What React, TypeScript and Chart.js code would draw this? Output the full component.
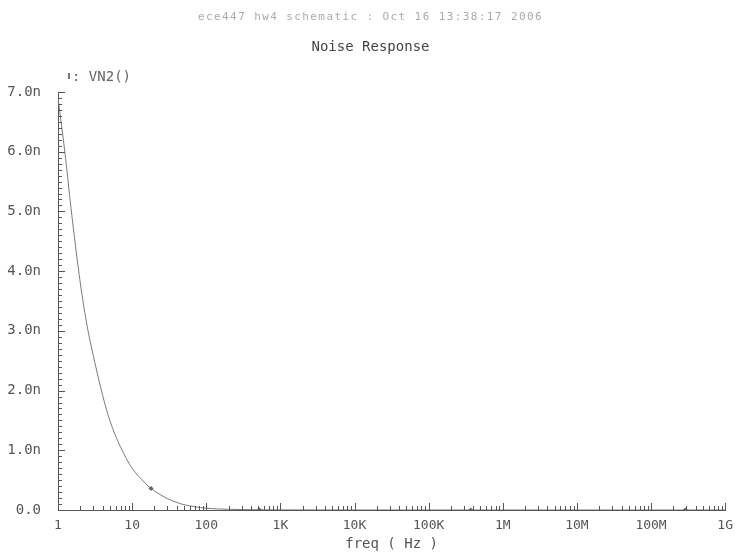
import React, { useEffect, useRef } from "react";
import { Chart, registerables } from "chart.js";

Chart.register(...registerables);

const HEADER_TEXT = "ece447 hw4 schematic : Oct 16 13:38:17 2006";
const TITLE_TEXT = "Noise Response";
const SERIES_NAME = "VN2()";
const X_AXIS_TITLE = "freq ( Hz )";

// frequency (Hz)
const FREQ_HZ = [1, 1.25, 1.5, 2, 2.5, 3, 4, 5, 7, 10, 15, 18, 20, 30, 50, 100, 200, 520, 1000, 10000, 370000, 1e6, 1e7, 2.9e8, 1e9];
// noise (n units)
const NOISE_N = [6.9, 5.95, 5.05, 3.8, 3.05, 2.58, 1.92, 1.5, 1.05, 0.7, 0.45, 0.36, 0.32, 0.19, 0.09, 0.03, 0.012, 0.004, 0.002, 0.0003, 0, 0, 0, 0, 0];
// frequencies carrying the curve's marker symbol
const MARKER_FREQS = [18, 520, 370000, 2.9e8];

const X_TICK_VALUES = [1, 10, 100, 1e3, 1e4, 1e5, 1e6, 1e7, 1e8, 1e9];
const X_TICK_LABELS = ["1", "10", "100", "1K", "10K", "100K", "1M", "10M", "100M", "1G"];
const Y_TICK_VALUES = [0, 1, 2, 3, 4, 5, 6, 7];
const Y_TICK_LABELS = ["0.0", "1.0n", "2.0n", "3.0n", "4.0n", "5.0n", "6.0n", "7.0n"];

const AXIS_COLOR = "#555";
const TEXT_COLOR = "#555";
const LINE_COLOR = "#7a7a7a";
const MONO = '"DejaVu Sans Mono", monospace';

const decorPlugin = {
  id: "decor",
  afterDraw(chart: any) {
    const { ctx, scales } = chart;
    const xs = scales.x;
    const ys = scales.y;
    const area = chart.chartArea;
    ctx.save();
    // inward tick marks
    ctx.strokeStyle = AXIS_COLOR;
    ctx.lineWidth = 1;
    ctx.beginPath();
    for (let i = 0; i <= 70; i++) {
      const py = Math.round(ys.getPixelForValue(i / 10)) + 0.5;
      const len = i % 10 === 0 ? 7 : 4;
      ctx.moveTo(area.left, py);
      ctx.lineTo(area.left + len, py);
    }
    for (let e = 0; e <= 9; e++) {
      for (let m = 1; m <= 9; m++) {
        if (e === 9 && m > 1) break;
        const f = m * Math.pow(10, e);
        const px = Math.round(xs.getPixelForValue(f)) + 0.5;
        const len = m === 1 ? 7 : 4;
        ctx.moveTo(px, area.bottom);
        ctx.lineTo(px, area.bottom - len);
      }
    }
    ctx.stroke();

    // header + title
    ctx.textAlign = "center";
    ctx.textBaseline = "middle";
    ctx.fillStyle = "#aaa";
    ctx.font = '11px ' + MONO;
    try { (ctx as any).letterSpacing = "1.4px"; } catch (e) {}
    ctx.fillText(HEADER_TEXT, chart.width / 2, 17);
    try { (ctx as any).letterSpacing = "0px"; } catch (e) {}
    ctx.fillStyle = "#444";
    ctx.font = '14px ' + MONO;
    ctx.fillText(TITLE_TEXT, chart.width / 2, 47);

    // legend
    ctx.fillStyle = "#777";
    ctx.fillRect(68, 73, 2, 6);
    ctx.textAlign = "left";
    ctx.fillStyle = "#666";
    ctx.font = '14px ' + MONO;
    ctx.fillText(": " + SERIES_NAME, 72, 77);
    ctx.restore();
  },
};

export default function App() {
  const ref = useRef<HTMLCanvasElement | null>(null);
  useEffect(() => {
    document.body.style.margin = "0";
    const canvas = ref.current;
    if (!canvas) return;
    const data = FREQ_HZ.map((f, i) => ({ x: f, y: NOISE_N[i] }));
    const radii = FREQ_HZ.map((f) => (MARKER_FREQS.includes(f) ? 2.5 : 0));
    const chart = new Chart(canvas, {
      type: "line",
      data: {
        datasets: [
          {
            label: SERIES_NAME,
            data,
            borderColor: LINE_COLOR,
            backgroundColor: "#666",
            borderWidth: 1,
            pointRadius: radii,
            pointStyle: "rectRot",
            pointBorderWidth: 0,
            cubicInterpolationMode: "monotone",
            fill: false,
          },
        ],
      },
      options: {
        responsive: false,
        animation: false,
        layout: { padding: { top: 92, right: 13, left: 0, bottom: 0 } },
        plugins: {
          legend: { display: false },
          title: { display: false },
          tooltip: { enabled: false },
        },
        scales: {
          x: {
            type: "logarithmic",
            min: 1,
            max: 1e9,
            afterBuildTicks: (scale: any) => {
              scale.ticks = X_TICK_VALUES.map((v) => ({ value: v }));
            },
            afterFit: (scale: any) => {
              scale.height = 45;
            },
            grid: { display: false, drawTicks: false },
            border: { display: true, color: AXIS_COLOR, width: 1 },
            ticks: {
              autoSkip: false,
              maxRotation: 0,
              padding: 8,
              color: TEXT_COLOR,
              font: { family: MONO, size: 13 },
              callback: (v: any) => {
                const i = X_TICK_VALUES.indexOf(Number(v));
                return i >= 0 ? X_TICK_LABELS[i] : "";
              },
            },
            title: {
              display: true,
              text: X_AXIS_TITLE,
              color: TEXT_COLOR,
              font: { family: MONO, size: 14 },
              padding: { top: 0, bottom: 2 },
            },
          },
          y: {
            min: 0,
            max: 7,
            afterBuildTicks: (scale: any) => {
              scale.ticks = Y_TICK_VALUES.map((v) => ({ value: v }));
            },
            afterFit: (scale: any) => {
              scale.width = 58;
            },
            grid: { display: false, drawTicks: false },
            border: { display: true, color: AXIS_COLOR, width: 1 },
            ticks: {
              padding: 17,
              color: TEXT_COLOR,
              font: { family: MONO, size: 14 },
              callback: (v: any) => {
                const i = Y_TICK_VALUES.indexOf(Number(v));
                return i >= 0 ? Y_TICK_LABELS[i] : "";
              },
            },
          },
        },
      },
      plugins: [decorPlugin],
    } as any);
    return () => chart.destroy();
  }, []);
  return <canvas ref={ref} width={741} height={555} style={{ display: "block" }} />;
}
